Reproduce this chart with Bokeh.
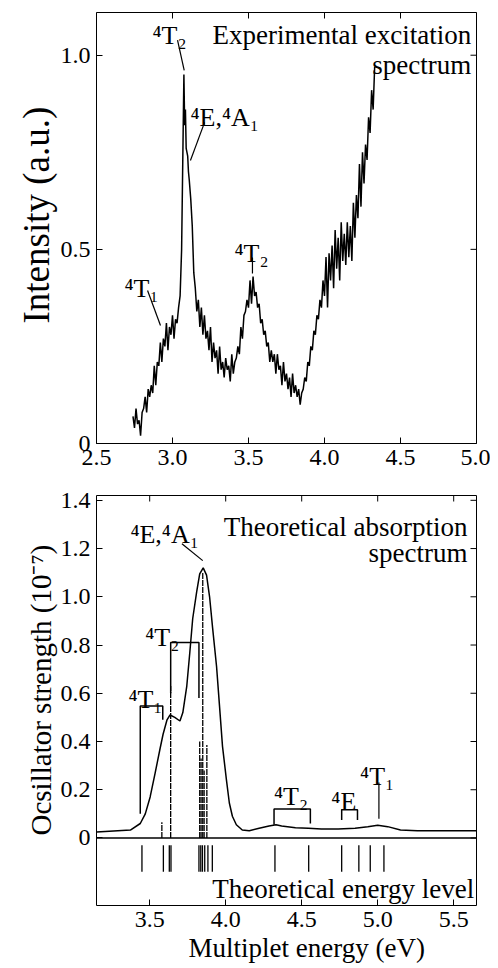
import math
from bokeh.plotting import figure
from bokeh.layouts import column
from bokeh.models import FixedTicker, Span, Range1d, PrintfTickFormatter, Title
from bokeh.core.properties import value
from bokeh.embed import file_html
from bokeh.resources import INLINE

FONT = "Liberation Serif"

# ---------------- experimental excitation spectrum (top) ----------------
exp_energy = [
    2.74, 2.75, 2.76, 2.77, 2.78, 2.79, 2.80, 2.81, 2.82, 2.83, 2.84, 2.85, 2.86, 2.87, 2.88, 2.89,
    2.90, 2.91, 2.92, 2.93, 2.94, 2.95, 2.96, 2.97, 2.98, 2.99, 3.00, 3.01, 3.02, 3.03, 3.04, 3.05,
    3.06, 3.07, 3.075, 3.08, 3.085, 3.09, 3.10, 3.105, 3.11, 3.12, 3.13, 3.14, 3.15, 3.16, 3.17,
    3.18, 3.19, 3.20, 3.21, 3.22, 3.23, 3.24, 3.25, 3.26, 3.27, 3.28, 3.29, 3.30, 3.31, 3.32, 3.33,
    3.34, 3.35, 3.36, 3.37, 3.38, 3.39, 3.40, 3.41, 3.42, 3.43, 3.44, 3.45, 3.46, 3.47, 3.48, 3.49,
    3.50, 3.51, 3.52, 3.53, 3.54, 3.55, 3.56, 3.57, 3.58, 3.59, 3.60, 3.61, 3.62, 3.63, 3.64, 3.65,
    3.66, 3.67, 3.68, 3.69, 3.70, 3.71, 3.72, 3.73, 3.74, 3.75, 3.76, 3.77, 3.78, 3.79, 3.80, 3.81,
    3.82, 3.83, 3.84, 3.85, 3.86, 3.87, 3.88, 3.89, 3.90, 3.91, 3.92, 3.93, 3.94, 3.95, 3.96, 3.97,
    3.98, 3.99, 4.00, 4.01, 4.02, 4.03, 4.04, 4.05, 4.06, 4.07, 4.08, 4.09, 4.10, 4.11, 4.12, 4.13,
    4.14, 4.15, 4.16, 4.17, 4.18, 4.19, 4.20, 4.21, 4.22, 4.23, 4.24, 4.25, 4.26, 4.27, 4.28, 4.29,
    4.30, 4.31, 4.32, 4.33,
]
exp_intensity = [
    0.07, 0.04, 0.09, 0.05, 0.06, 0.02, 0.08, 0.09, 0.12, 0.08, 0.14, 0.12, 0.15, 0.13, 0.20, 0.15,
    0.21, 0.20, 0.26, 0.21, 0.27, 0.25, 0.31, 0.24, 0.30, 0.28, 0.33, 0.27, 0.32, 0.31, 0.35, 0.38,
    0.50, 0.80, 0.95, 0.82, 0.86, 0.76, 0.74, 0.70, 0.68, 0.63, 0.56, 0.44, 0.40, 0.34, 0.37,
    0.30, 0.35, 0.28, 0.33, 0.27, 0.29, 0.24, 0.30, 0.21, 0.26, 0.22, 0.24, 0.18, 0.25, 0.19, 0.21,
    0.17, 0.22, 0.19, 0.20, 0.16, 0.23, 0.18, 0.21, 0.22, 0.25, 0.23, 0.30, 0.27, 0.33, 0.34, 0.37,
    0.35, 0.42, 0.36, 0.43, 0.38, 0.39, 0.35, 0.36, 0.31, 0.32, 0.28, 0.29, 0.25, 0.26, 0.21, 0.24,
    0.21, 0.23, 0.18, 0.23, 0.19, 0.20, 0.15, 0.21, 0.16, 0.18, 0.14, 0.17, 0.12, 0.18, 0.13, 0.15,
    0.12, 0.14, 0.10, 0.13, 0.14, 0.17, 0.16, 0.21, 0.20, 0.25, 0.24, 0.29, 0.28, 0.33, 0.32, 0.37,
    0.35, 0.42, 0.38, 0.48, 0.35, 0.49, 0.42, 0.51, 0.40, 0.55, 0.45, 0.53, 0.42, 0.57, 0.47, 0.54,
    0.46, 0.57, 0.48, 0.56, 0.47, 0.62, 0.53, 0.64, 0.58, 0.72, 0.61, 0.75, 0.67, 0.77, 0.73, 0.84,
    0.80, 0.91, 0.86, 0.97,
]
exp_xticks = [2.5, 3.0, 3.5, 4.0, 4.5, 5.0]
exp_yticks = [0, 0.5, 1.0]

exp_labels = ["⁴T₂", "⁴E,⁴A₁", "⁴T₂", "⁴T₁"]
exp_label_x = [2.868, 3.118, 3.408, 2.684]
exp_label_y = [1.05, 0.84, 0.49, 0.40]
exp_lead_x0 = [3.033, 3.211, 3.526, 2.836]
exp_lead_y0 = [1.039, 0.827, 0.479, 0.394]
exp_lead_x1 = [3.077, 3.118, 3.526, 2.921]
exp_lead_y1 = [0.961, 0.729, 0.438, 0.304]
exp_title = ["Experimental excitation", "spectrum"]
exp_title_y = [1.053, 0.975]
exp_ylabel = "Intensity (a.u.)"

# ---------------- theoretical absorption spectrum (bottom) ----------------
theo_energy = [
    3.151, 3.373, 3.438, 3.471, 3.503, 3.536, 3.568, 3.588, 3.614, 3.634, 3.665, 3.699, 3.718,
    3.744, 3.764, 3.783, 3.809, 3.829, 3.852, 3.874, 3.894, 3.914, 3.940, 3.959, 3.979, 4.005,
    4.024, 4.044, 4.070, 4.109, 4.155, 4.220, 4.285, 4.331, 4.368, 4.459, 4.544, 4.629, 4.740,
    4.851, 4.935, 5.000, 5.066, 5.150, 5.261, 5.456, 5.651,
]
theo_strength = [
    0.025, 0.033, 0.06, 0.10, 0.17, 0.27, 0.37, 0.43, 0.49, 0.51, 0.50, 0.485, 0.52,
    0.63, 0.77, 0.91, 1.02, 1.095, 1.12, 1.09, 1.0, 0.87, 0.71, 0.55, 0.38, 0.24,
    0.145, 0.09, 0.055, 0.033, 0.03, 0.04, 0.05, 0.055, 0.05, 0.042, 0.04, 0.037, 0.037,
    0.04, 0.047, 0.053, 0.047, 0.033, 0.03, 0.03, 0.03,
]
stick_energy = [3.58, 3.638, 3.829, 3.838, 3.849, 3.858, 3.876]
stick_strength = [0.065, 0.63, 0.40, 0.33, 1.10, 0.28, 0.385]
level_energy = [3.449, 3.590, 3.629, 3.640, 3.824, 3.836, 3.847, 3.862, 3.883, 3.912,
                4.324, 4.546, 4.763, 4.876, 4.951, 5.041]
theo_xticks = [3.5, 4.0, 4.5, 5.0, 5.5]
theo_yticks = [0, 0.2, 0.4, 0.6, 0.8, 1.0, 1.2, 1.4]

theo_labels = ["⁴E,⁴A₁", "⁴T₂", "⁴T₁", "⁴T₂", "⁴E", "⁴T₁"]
theo_label_x = [3.373, 3.471, 3.36, 4.318, 4.695, 4.884]
theo_label_y = [1.26, 0.83, 0.575, 0.17, 0.15, 0.254]
bracket_x0 = [3.438, 3.638, 4.318, 4.763]
bracket_x1 = [3.586, 3.824, 4.557, 4.867]
bracket_top = [0.547, 0.81, 0.12, 0.117]
bracket_left_end = [0.10, 0.60, 0.055, 0.075]
bracket_right_end = [0.49, 0.58, 0.06, 0.075]
theo_lead_x0 = [3.712, 5.008]
theo_lead_y0 = [1.22, 0.23]
theo_lead_x1 = [3.849, 5.008]
theo_lead_y1 = [1.15, 0.08]
theo_title = ["Theoretical absorption", "spectrum"]
theo_title_y = [1.29, 1.18]
level_title = "Theoretical energy level"
theo_ylabel = "Ocsillator strength (10⁻⁷)"
theo_xlabel = "Multiplet energy (eV)"


def style(p, xticks, yticks):
    p.outline_line_color = "black"
    p.outline_line_width = 1
    p.xgrid.visible = False
    p.ygrid.visible = False
    p.background_fill_color = "white"
    p.border_fill_color = "white"
    for ax in list(p.xaxis) + list(p.yaxis):
        ax.major_tick_in = 6
        ax.major_tick_out = 0
        ax.minor_tick_line_color = None
        ax.axis_line_color = None
        ax.major_tick_line_color = "black"
        ax.major_label_text_font = FONT
        ax.major_label_text_font_size = "24px"
        ax.major_label_text_color = "black"
        ax.formatter = PrintfTickFormatter(format="%.1f")
    p.xaxis.ticker = FixedTicker(ticks=xticks)
    p.yaxis.ticker = FixedTicker(ticks=yticks)
    p.yaxis.major_label_overrides = {0: "0"}
    p.yaxis.major_label_standoff = 6
    p.xaxis.major_label_standoff = 6
    # inward ticks on the top and right edges of the frame
    xr, yr = p.x_range, p.y_range
    p.scatter(xticks, [yr.end] * len(xticks), marker="dash", size=12, angle=math.pi / 2,
              line_color="black", line_width=1)
    p.scatter([xr.end] * len(yticks), yticks, marker="dash", size=12,
              line_color="black", line_width=1)


def txt(p, xs, ys, texts, align, size="26px"):
    p.text(xs, ys, text=texts, text_font=value(FONT), text_font_size=size,
           text_baseline="alphabetic", text_align=align, text_color="black")


def side_title(p, text, side, size, offset):
    p.add_layout(Title(text=text, align="left", offset=offset, standoff=2,
                       text_font=FONT, text_font_size=size, text_font_style="normal",
                       text_color="black"), side)


# ---- top figure ----
p1 = figure(width=490, height=483, output_backend="svg", toolbar_location=None,
            x_range=Range1d(2.5, 5.0), y_range=Range1d(0, 1.11),
            min_border_left=92, min_border_right=14, min_border_top=12, min_border_bottom=40)
style(p1, exp_xticks, exp_yticks)
side_title(p1, exp_ylabel, "left", "37px", 120)

p1.line(exp_energy, exp_intensity, line_color="black", line_width=1.5)
p1.segment(exp_lead_x0, exp_lead_y0, exp_lead_x1, exp_lead_y1, line_color="black", line_width=1.2)
txt(p1, exp_label_x, exp_label_y, exp_labels, "left")
txt(p1, [4.965, 4.965], exp_title_y, exp_title, "right", "27px")

# ---- bottom figure ----
p2 = figure(width=490, height=485, output_backend="svg", toolbar_location=None,
            x_range=Range1d(3.15, 5.65), y_range=Range1d(-0.28, 1.42),
            min_border_left=96, min_border_right=8, min_border_top=12, min_border_bottom=63)
style(p2, theo_xticks, theo_yticks)
side_title(p2, theo_ylabel, "left", "29px", 70)
side_title(p2, theo_xlabel, "below", "27px", 92)

p2.add_layout(Span(location=0, dimension="width", line_color="black", line_width=1.5))
p2.line(theo_energy, theo_strength, line_color="black", line_width=1.5)
p2.segment(stick_energy, [0] * len(stick_energy), stick_energy, stick_strength,
           line_color="black", line_width=1.3, line_dash="6 1")
p2.segment(level_energy, [-0.03] * len(level_energy), level_energy, [-0.14] * len(level_energy),
           line_color="black", line_width=1.3)
bx, by = [], []
for x0, x1, t, l, r in zip(bracket_x0, bracket_x1, bracket_top, bracket_left_end, bracket_right_end):
    bx.append([x0, x0, x1, x1])
    by.append([l, t, t, r])
p2.multi_line(bx, by, line_color="black", line_width=1.5)
p2.segment(theo_lead_x0, theo_lead_y0, theo_lead_x1, theo_lead_y1, line_color="black", line_width=1.2)
txt(p2, theo_label_x, theo_label_y, theo_labels, "left")
txt(p2, [5.59, 5.59], theo_title_y, theo_title, "right", "27px")
txt(p2, [5.635], [-0.21], [level_title], "right", "27px")

layout = column(p1, p2)
open("out.html", "w").write(file_html(layout, INLINE))
